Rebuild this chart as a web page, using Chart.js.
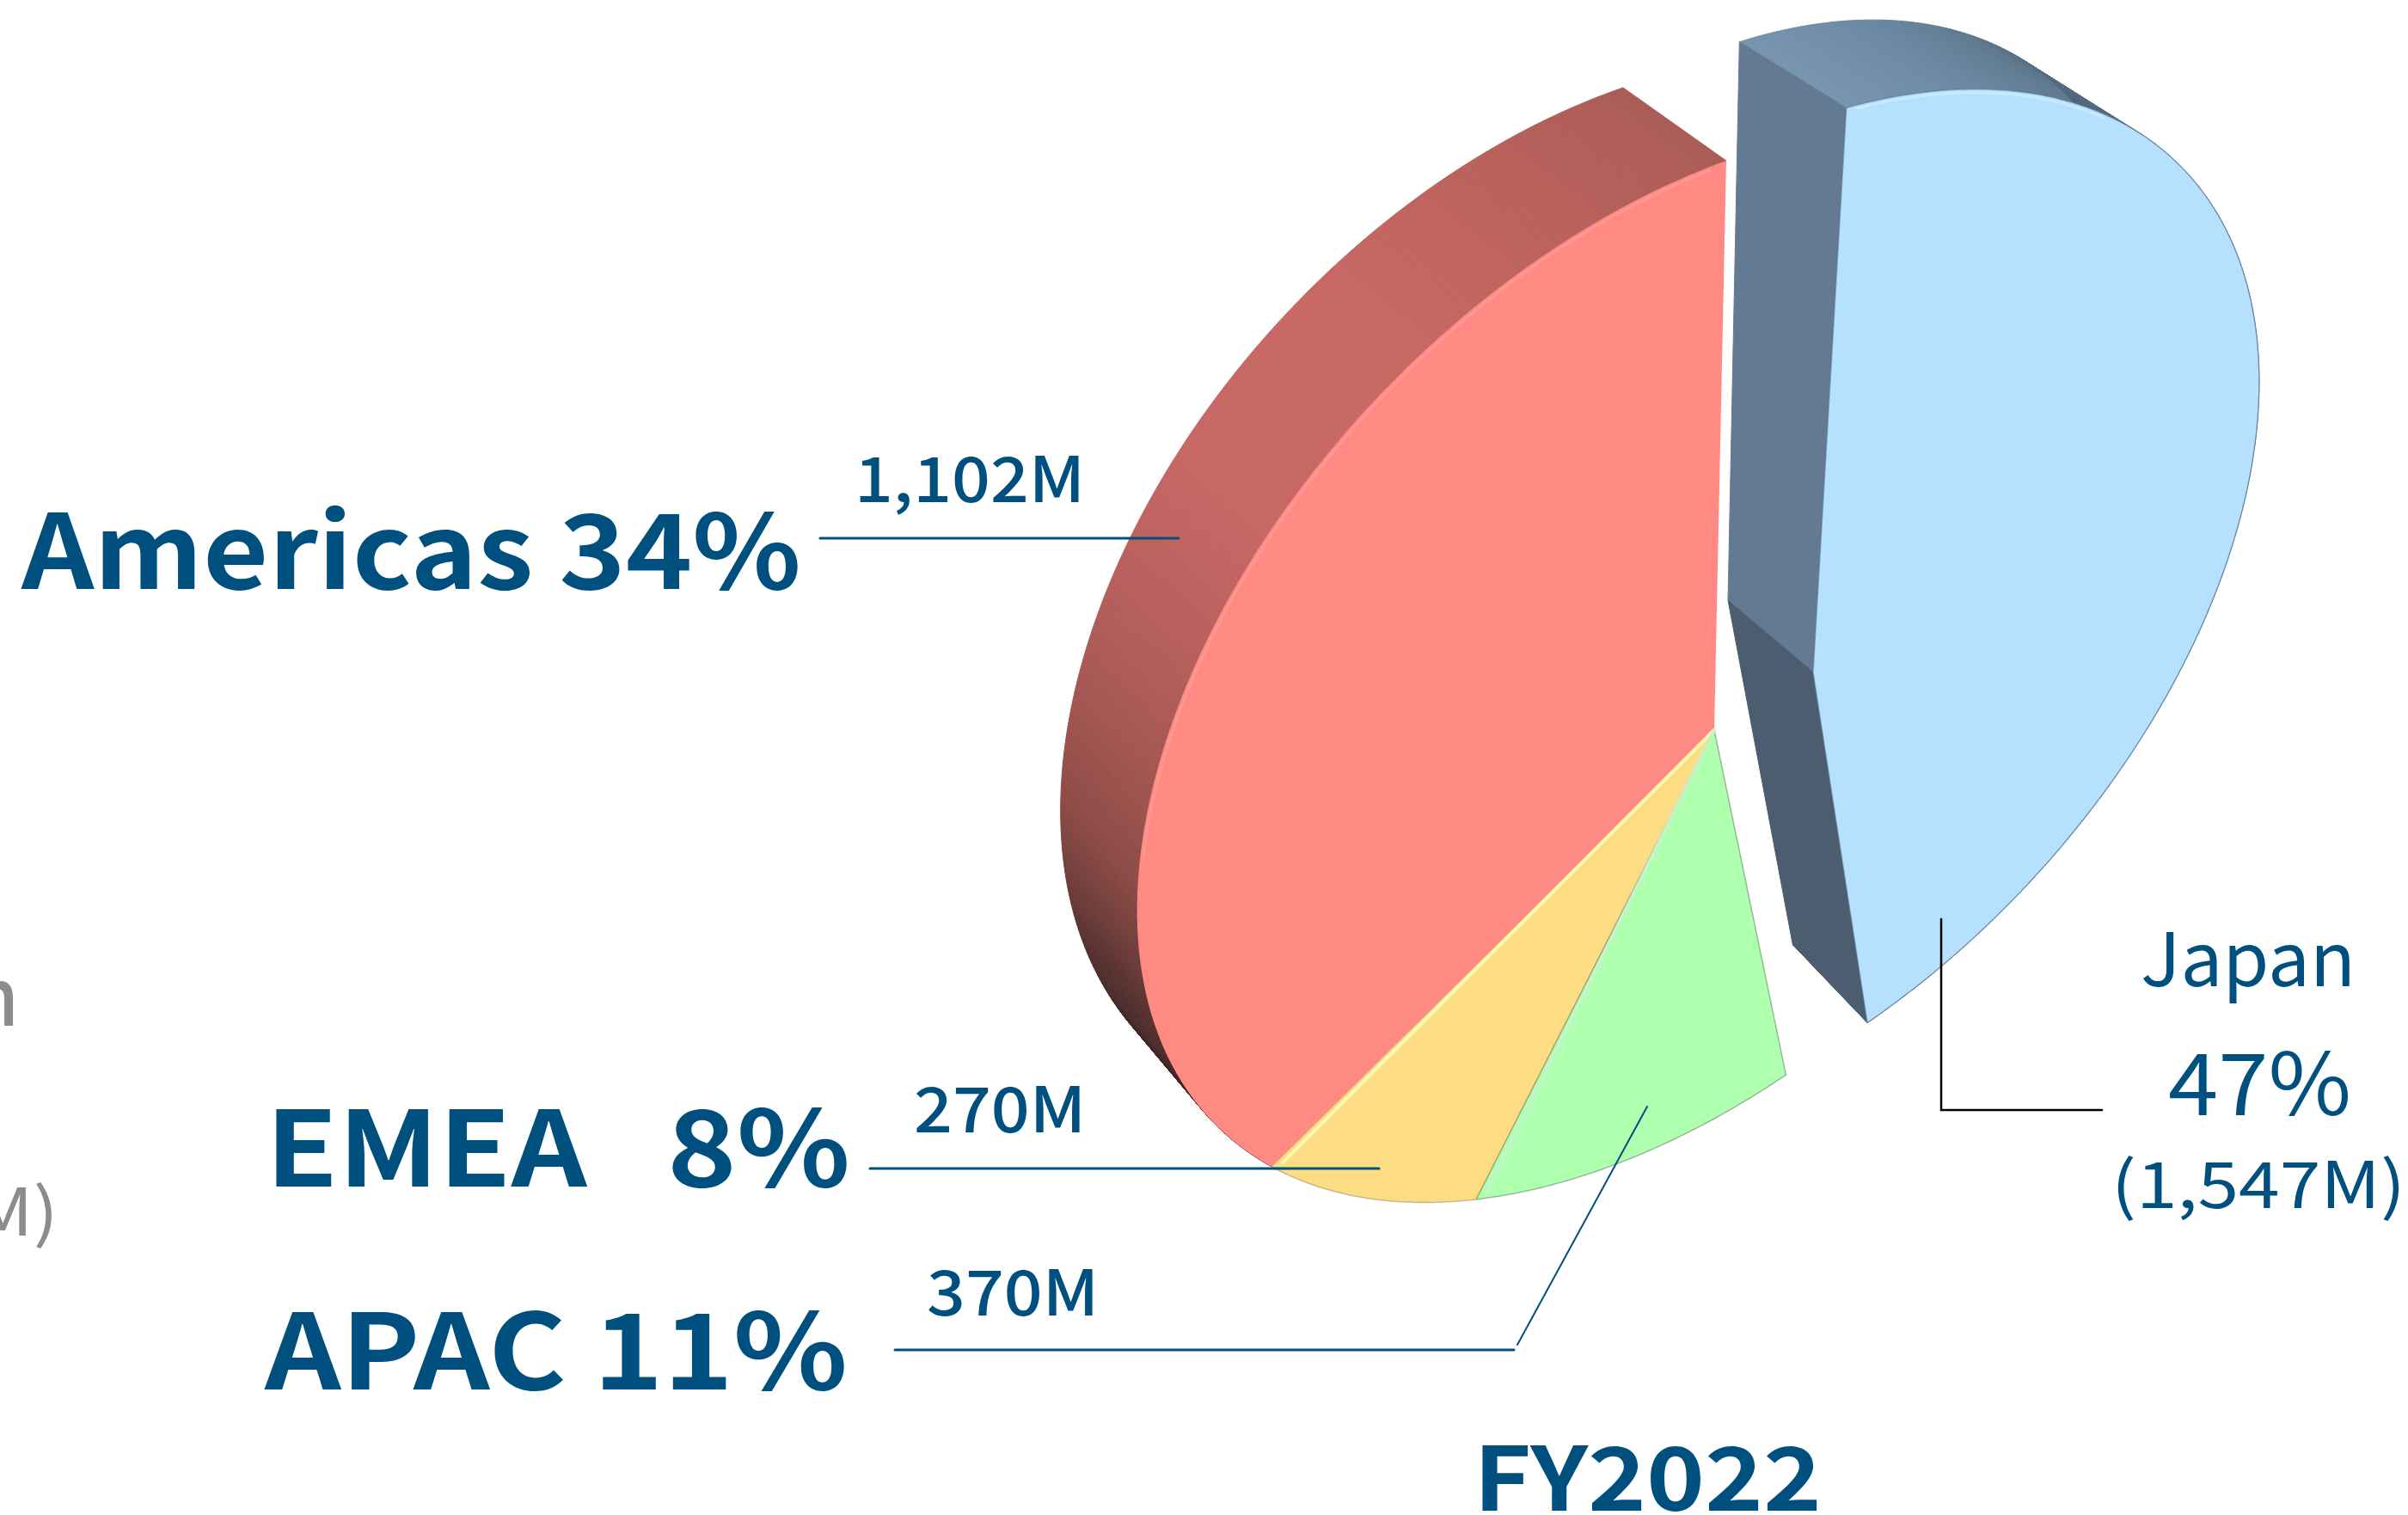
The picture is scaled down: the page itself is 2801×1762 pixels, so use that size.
<!DOCTYPE html>
<html><head><meta charset="utf-8">
<style>html,body{margin:0;padding:0;background:#fff;overflow:hidden}canvas{display:block}</style>
<script src="https://cdn.jsdelivr.net/npm/chart.js@4"></script>
</head><body>
<canvas id="c" width="2801" height="1762"></canvas>
<script>
// ---- data ----
const categories = ['Japan', 'APAC', 'EMEA', 'Americas'];
const revenueM   = [1547, 370, 270, 1102];
const sharePct   = [47, 11, 8, 34];
const faceColors = ['#b5e1ff', '#aeffae', '#fddd84', '#ff8a84'];
const edgeColors = ['rgba(90,115,140,.55)', 'rgba(90,120,90,.5)', 'rgba(120,105,70,.4)', 'rgba(0,0,0,0)'];
const chartTitle = 'FY2022';

// ---- 3D view: perspective maps of the unit disc (front and back faces) ----
const viewMain  = {cx:1994, cy:849, ax:600, ay:-278, bx:-11.4, by:540.9, g:.0923, h:.183};
const backMain  = {cx:1895, cy:765, ax:588, ay:-264, bx:5.7,   by:541.7, g:.0923, h:.183};
const viewJapan = {cx:2109, cy:782, ax:577, ay:-250, bx:-32,   by:543,   g:.14,   h:.173};
const backJapan = {cx:2010, cy:698, ax:545, ay:-262, bx:-11,   by:537,   g:.14,   h:.173};
const viewFor = i => i === 0 ? viewJapan : viewMain;
const backFor = i => i === 0 ? backJapan : backMain;
const project = (m, u, v) => { const w = m.g*u + m.h*v + 1;
  return [m.cx + (m.ax*u + m.bx*v)/w, m.cy + (m.ay*u + m.by*v)/w]; };
const rim = (m, a, r=1) => project(m, r*Math.cos(a), r*Math.sin(a));

// ---- side wall shading, [degrees clockwise from top, colour] ----
const wallJapan = [[0,'#7895b0'],[12,'#6c8aa5'],[30,'#5a7388'],[50,'#4b5f72'],[170,'#4b5f72']];
const wallAmericas = [[235,'#3a2423'],[255,'#3f2726'],[268,'#5a3432'],[283,'#8f4c47'],[300,'#b15d59'],[315,'#c86865'],[330,'#c96966'],[345,'#bc625d'],[360,'#ab5c56']];
const wallEdgeTop = '#647a92', wallEdgeLow = '#4c5d70';

function hex(c){return [1,3,5].map(i=>parseInt(c.substr(i,2),16));}
function shade(stops, deg){
  if (deg <= stops[0][0]) return stops[0][1];
  for (let i=1;i<stops.length;i++) if (deg <= stops[i][0]) {
    const t=(deg-stops[i-1][0])/(stops[i][0]-stops[i-1][0]), a=hex(stops[i-1][1]), b=hex(stops[i][1]);
    return 'rgb('+a.map((x,k)=>Math.round(x+(b[k]-x)*t)).join(',')+')';
  }
  return stops[stops.length-1][1];
}
function quad(ctx, pts, color){
  ctx.beginPath(); pts.forEach((p,i)=> i?ctx.lineTo(p[0],p[1]):ctx.moveTo(p[0],p[1])); ctx.closePath();
  ctx.fillStyle=color; ctx.strokeStyle=color; ctx.lineWidth=1; ctx.fill(); ctx.stroke();
}
function drawWalls(ctx, arc, i, stops){
  const f=viewFor(i), b=backFor(i), a0=arc.startAngle, a1=arc.endAngle, n=Math.ceil((a1-a0)*90);
  for(let k=0;k<n;k++){
    const s=a0+(a1-a0)*k/n, e=a0+(a1-a0)*(k+1)/n;
    quad(ctx,[rim(f,s),rim(f,e),rim(b,e),rim(b,s)], shade(stops,((s+e)/2+Math.PI/2)*180/Math.PI));
  }
}
function drawEdge(ctx, a, i, color){
  const f=viewFor(i), b=backFor(i);
  quad(ctx,[project(f,0,0),rim(f,a),rim(b,a),project(b,0,0)],color);
}
// Route the arc element's own path calls through the perspective map
function withPerspective(ctx, arc, view, fn){
  const lineTo=ctx.lineTo, moveTo=ctx.moveTo, R=arc.outerRadius, X=arc.x, Y=arc.y;
  const map=(x,y)=>project(view,(x-X)/R,(y-Y)/R);
  ctx.moveTo=(x,y)=>{const p=map(x,y);moveTo.call(ctx,p[0],p[1]);};
  ctx.lineTo=(x,y)=>{const p=map(x,y);lineTo.call(ctx,p[0],p[1]);};
  ctx.arc=(x,y,r,a0,a1,ccw)=>{
    if(!(r>1)||!isFinite(a0)||!isFinite(a1)){const p=map(x,y);lineTo.call(ctx,p[0],p[1]);return;}
    const n=Math.max(2,Math.ceil(Math.abs(a1-a0)*120));
    for(let k=0;k<=n;k++){const a=a0+(a1-a0)*k/n,p=map(x+r*Math.cos(a),y+r*Math.sin(a));lineTo.call(ctx,p[0],p[1]);}
  };
  fn();
  delete ctx.moveTo; delete ctx.lineTo; delete ctx.arc;
}
// highlight strokes along a slice's face edges
function strokePts(ctx, pts, color, w){
  ctx.beginPath(); pts.forEach((p,i)=> i?ctx.lineTo(p[0],p[1]):ctx.moveTo(p[0],p[1]));
  ctx.strokeStyle=color; ctx.lineWidth=w; ctx.lineCap='round'; ctx.stroke();
}
function rimPts(m, d0, d1, r){
  const out=[]; for(let d=d0;d<=d1;d+=1.5){out.push(rim(m,(d-90)*Math.PI/180,r));} return out;
}

// ---- annotation layout ----
const NAVY='#00507f', GREY='#8c8c8c';
const texts = [
 // text, left, baseline, width, font
 [categories[3]+' '+sharePct[3]+'%',   25,  685, 907, '700 120px', NAVY],
 ['1,102M',  994,  584, 268, '500 73px', NAVY],
 [categories[2]+'   '+sharePct[2]+'%', 309, 1380, 680, '700 122px', NAVY],
 ['270M',   1063, 1317, 200, '500 73px', NAVY],
 [categories[1]+' '+sharePct[1]+'%',  308, 1616, 678, '700 122px', NAVY],
 ['370M',   1078, 1530, 200, '500 73px', NAVY],
 [chartTitle, 1714, 1757, 405, '700 102px', NAVY],
 [categories[0], 2490, 1147, 250, '400 86px', NAVY],
 [sharePct[0]+'%', 2522, 1297, 213, '400 100px', NAVY],
 ['(1,547M)', 2456, 1405, 342, '400 75px', NAVY],
 ['n', -32, 1193, 54, '500 92px', GREY],
 ['M)', -32, 1437, 100, '400 76px', GREY]
];
const leaders = [
 [[954,626],[1371,626]],
 [[1012,1359],[1604,1359]],
 [[1041,1570],[1761,1570]],
 [[1765,1564],[1916,1287]],
 [[2258,1069],[2258,1291],[2445,1291]]
];
const leaderStyle = [[NAVY,3],[NAVY,3],[NAVY,3],[NAVY,2],['#000',2.5]];

const pie3d = {
  id:'pie3d',
  beforeDatasetsDraw(chart){
    const ctx=chart.ctx, arcs=chart.getDatasetMeta(0).data;
    ctx.save();
    drawWalls(ctx,arcs[3],3,wallAmericas);
    drawWalls(ctx,arcs[0],0,wallJapan);
    drawEdge(ctx,arcs[0].startAngle,0,wallEdgeTop);
    drawEdge(ctx,arcs[0].endAngle,0,wallEdgeLow);
    ctx.restore();
  },
  beforeDatasetDraw(chart,args){
    const ctx=chart.ctx;
    args.meta.data.forEach((arc,i)=>withPerspective(ctx,arc,viewFor(i),()=>arc.draw(ctx)));
    return false;
  },
  afterDatasetsDraw(chart){
    const ctx=chart.ctx, arcs=chart.getDatasetMeta(0).data;
    ctx.save();
    const deg=a=>(a+Math.PI/2)*180/Math.PI;
    strokePts(ctx,rimPts(viewMain,285,359,.995),'rgba(255,170,165,.4)',3);
    strokePts(ctx,rimPts(viewJapan,1,30,.995),'rgba(215,245,255,.5)',3);
    // light bevel along the yellow and green start edges
    const e=deg(arcs[2].endAngle)-.8, g=deg(arcs[1].endAngle)-.9;
    strokePts(ctx,[project(viewMain,0,0),rim(viewMain,(e-90)*Math.PI/180,.985)],'rgba(255,250,175,.95)',4);
    strokePts(ctx,[project(viewMain,0,0),rim(viewMain,(g-90)*Math.PI/180,.985)],'rgba(195,245,205,.9)',4);
    // leaders and labels
    leaders.forEach((pts,i)=>strokePts(ctx,pts,leaderStyle[i][0],leaderStyle[i][1]));
    ctx.textBaseline='alphabetic'; ctx.textAlign='left';
    texts.forEach(([t,x,y,w,f,col])=>{
      ctx.font=f+' "Noto Sans CJK JP"';
      ctx.fillStyle=col;
      const s=w/ctx.measureText(t).width;
      ctx.save(); ctx.translate(x,y); ctx.scale(s,1); ctx.fillText(t,0,0); ctx.restore();
    });
    ctx.restore();
  }
};

new Chart(document.getElementById('c'),{
  type:'pie',
  data:{labels:categories,datasets:[{data:revenueM,backgroundColor:faceColors,borderColor:edgeColors,borderWidth:1.5}]},
  options:{responsive:false,animation:false,
    layout:{padding:0},
    plugins:{legend:{display:false},tooltip:{enabled:false},title:{display:false}}},
  plugins:[pie3d]
});
</script>
</body></html>
